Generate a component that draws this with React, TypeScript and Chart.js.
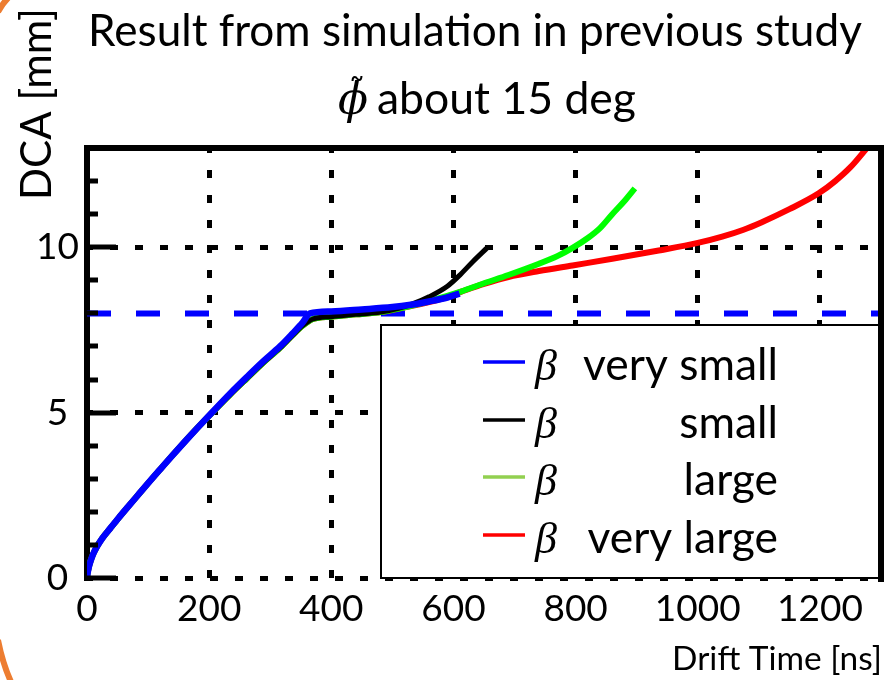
import React, { useEffect, useRef } from 'react';
import { Chart, registerables } from 'chart.js';

Chart.register(...registerables);

// ---------- text ----------
const TITLE = 'Result from simulation in previous study';
const SUBTITLE = 'about 15 deg';
const PHI = '\u03D5';
const BETA = '\u03B2';
const X_TITLE = 'Drift Time [ns]';
const Y_TITLE = 'DCA [mm]';

// ---------- series meta ----------
const seriesLabels = ['very small', 'small', 'large', 'very large'];
const seriesColors = ['#0000ff', '#000000', '#00ff00', '#ff0000'];
const legendColors = ['#0000ff', '#000000', '#92d050', '#ff0000'];
const seriesWidths = [6.5, 5, 6, 6];

// ---------- axes ----------
const xMin = 0;
const xMax = 1300;
const xStep = 200;
const yMin = 0;
const yMax = 13;
const yLabelTicks = [0, 5, 10];
const referenceDca = 8;

// ---------- data (drift time [ns], DCA [mm]) ----------
const verySmallTime = [0, 1, 3, 6, 10, 16, 25, 38, 52, 67, 85, 104, 121, 140, 160, 182, 205, 234, 262, 288, 316, 337, 353, 365, 400, 450, 500, 530, 560, 590, 610];
const verySmallDca = [0, 0.15, 0.33, 0.52, 0.72, 0.94, 1.2, 1.5, 1.82, 2.15, 2.54, 2.95, 3.31, 3.71, 4.12, 4.56, 5.01, 5.57, 6.08, 6.54, 7.0, 7.4, 7.72, 8.0, 8.06, 8.12, 8.19, 8.26, 8.36, 8.48, 8.6];

const smallTime = [0, 1, 3, 6, 10, 16, 25, 38, 52, 67, 85, 104, 121, 140, 160, 182, 205, 234, 262, 288, 316, 337, 353, 370, 400, 440, 481, 510, 535, 560, 590, 610, 632, 655];
const smallDca = [0, 0.15, 0.33, 0.52, 0.72, 0.94, 1.2, 1.5, 1.82, 2.15, 2.54, 2.95, 3.31, 3.71, 4.12, 4.56, 5.0, 5.54, 6.04, 6.5, 6.96, 7.35, 7.63, 7.83, 7.9, 7.97, 8.04, 8.15, 8.3, 8.5, 8.82, 9.15, 9.57, 9.98];

const largeTime = [0, 1, 3, 6, 10, 16, 25, 38, 52, 67, 85, 104, 121, 140, 160, 182, 205, 234, 262, 288, 316, 337, 353, 370, 400, 440, 481, 520, 560, 612, 650, 690, 740, 770, 795, 820, 840, 860, 880, 897];
const largeDca = [0, 0.15, 0.33, 0.52, 0.72, 0.94, 1.2, 1.5, 1.82, 2.15, 2.54, 2.95, 3.31, 3.71, 4.12, 4.56, 5.0, 5.54, 6.04, 6.5, 6.96, 7.35, 7.63, 7.83, 7.9, 7.97, 8.04, 8.18, 8.37, 8.66, 8.91, 9.16, 9.5, 9.73, 9.98, 10.28, 10.58, 11.0, 11.4, 11.78];

const veryLargeTime = [0, 1, 3, 6, 10, 16, 25, 38, 52, 67, 85, 104, 121, 140, 160, 182, 205, 234, 262, 288, 316, 337, 353, 370, 400, 440, 481, 520, 577, 612, 650, 690, 740, 795, 860, 936, 1000, 1040, 1075, 1104, 1150, 1198, 1225, 1250, 1277];
const veryLargeDca = [0, 0.15, 0.33, 0.52, 0.72, 0.94, 1.2, 1.5, 1.82, 2.15, 2.54, 2.95, 3.31, 3.71, 4.12, 4.56, 5.0, 5.54, 6.04, 6.5, 6.96, 7.35, 7.63, 7.83, 7.9, 7.97, 8.04, 8.18, 8.42, 8.65, 8.89, 9.1, 9.28, 9.45, 9.65, 9.9, 10.13, 10.32, 10.53, 10.75, 11.15, 11.63, 12.0, 12.42, 13.0];

const referenceTime = [xMin, xMax];

const toPoints = (t: number[], d: number[]) => t.map((x, i) => ({ x, y: d[i] }));

const seriesData = [
  toPoints(verySmallTime, verySmallDca),
  toPoints(smallTime, smallDca),
  toPoints(largeTime, largeDca),
  toPoints(veryLargeTime, veryLargeDca),
];

const FONT = 'Lato, "Open Sans", sans-serif';

function fitFont(ctx: CanvasRenderingContext2D, text: string, width: number, style: string, family: string) {
  const base = 40;
  ctx.font = `${style} ${base}px ${family}`;
  const w = ctx.measureText(text).width || 1;
  const size = (base * width) / w;
  ctx.font = `${style} ${size}px ${family}`;
  return size;
}

const decorPlugin = {
  id: 'decor',
  afterDatasetsDraw(chart: any) {
    const { ctx, chartArea: a, scales } = chart;
    const ys = scales.y;
    ctx.save();
    // inner ticks on the left axis
    ctx.strokeStyle = '#000';
    ctx.lineWidth = 5;
    for (let v = yMin; v < yMax; v++) {
      const py = Math.round(ys.getPixelForValue(v));
      const len = yLabelTicks.includes(v) ? 29 : 11;
      ctx.beginPath();
      ctx.moveTo(a.left, py);
      ctx.lineTo(a.left + len, py);
      ctx.stroke();
    }
    // top and right frame
    ctx.lineWidth = 6;
    ctx.beginPath();
    ctx.moveTo(a.left - 3, a.top);
    ctx.lineTo(a.right + 3, a.top);
    ctx.moveTo(a.right, a.top);
    ctx.lineTo(a.right, a.bottom + 4);
    ctx.stroke();

    // legend box
    const L = 381, T = 325, R = 879, B = 578;
    ctx.fillStyle = '#ffffff';
    ctx.fillRect(L, T, R - L, B - T);
    ctx.lineWidth = 2;
    ctx.strokeStyle = '#000';
    ctx.strokeRect(L, T, R - L, B - T);
    const rows = [362, 420, 477, 535];
    const labelSize = fitFont(ctx, seriesLabels[0], 195, '', FONT);
    seriesLabels.forEach((label, i) => {
      const y = rows[i];
      ctx.strokeStyle = legendColors[i];
      ctx.lineWidth = 3.5;
      ctx.beginPath();
      ctx.moveTo(483, y);
      ctx.lineTo(525, y);
      ctx.stroke();
      ctx.fillStyle = '#000';
      ctx.textBaseline = 'alphabetic';
      ctx.textAlign = 'left';
      ctx.font = 'italic 44px "Liberation Serif", serif';
      ctx.fillText(BETA, 535, y + 18);
      ctx.textAlign = 'right';
      ctx.font = `${labelSize}px ${FONT}`;
      ctx.fillText(label, 778, y + 18);
    });
    ctx.restore();
  },
  afterDraw(chart: any) {
    const { ctx } = chart;
    ctx.save();
    ctx.fillStyle = '#000';
    ctx.textBaseline = 'alphabetic';
    // title
    ctx.textAlign = 'center';
    fitFont(ctx, TITLE, 774, '', FONT);
    ctx.fillText(TITLE, 475, 46);
    // subtitle with phi tilde
    ctx.textAlign = 'left';
    ctx.font = 'italic 44px "DejaVu Serif", serif';
    ctx.fillText(PHI, 338, 114);
    ctx.font = '34px "DejaVu Sans", sans-serif';
    ctx.textAlign = 'center';
    ctx.fillText('\u02DC', 357, 103);
    ctx.textAlign = 'left';
    fitFont(ctx, SUBTITLE, 259, '', FONT);
    ctx.fillText(SUBTITLE, 377, 114);
    // x axis title
    ctx.textAlign = 'right';
    fitFont(ctx, X_TITLE, 210, '', FONT);
    ctx.fillText(X_TITLE, 882, 670);
    // y axis title
    ctx.translate(51, 104);
    ctx.rotate(-Math.PI / 2);
    ctx.textAlign = 'center';
    fitFont(ctx, Y_TITLE, 192, '', FONT);
    ctx.fillText(Y_TITLE, 0, 0);
    ctx.restore();
    // orange slide decoration
    ctx.save();
    ctx.strokeStyle = '#ed7d31';
    ctx.lineWidth = 6;
    ctx.beginPath();
    ctx.moveTo(-2, 640);
    ctx.quadraticCurveTo(3, 665, 12, 684);
    ctx.stroke();
    ctx.beginPath();
    ctx.moveTo(-2, 12);
    ctx.quadraticCurveTo(2, 4, 9, -3);
    ctx.stroke();
    ctx.restore();
  },
};

export default function App() {
  const ref = useRef<HTMLCanvasElement | null>(null);
  useEffect(() => {
    if (!ref.current) return;
    const datasets: any[] = seriesData.map((data, i) => ({
      label: seriesLabels[i],
      data,
      borderColor: seriesColors[i],
      backgroundColor: seriesColors[i],
      borderWidth: seriesWidths[i],
      pointRadius: 0,
      fill: false,
      cubicInterpolationMode: 'monotone',
      borderCapStyle: 'butt',
    }));
    datasets.push({
      label: 'reference',
      data: toPoints(referenceTime, referenceTime.map(() => referenceDca)),
      borderColor: '#0000ff',
      borderWidth: 6,
      borderDash: [24, 25],
      pointRadius: 0,
      fill: false,
    });
    const chart = new Chart(ref.current, {
      type: 'line',
      data: { datasets },
      options: {
        animation: false,
        responsive: true,
        maintainAspectRatio: false,
        devicePixelRatio: 1,
        layout: { padding: { left: 0, right: 7, top: 148, bottom: 0 } },
        plugins: {
          legend: { display: false },
          tooltip: { enabled: false },
          title: { display: false },
        },
        scales: {
          x: {
            type: 'linear',
            min: xMin,
            max: xMax,
            ticks: {
              stepSize: xStep,
              includeBounds: false,
              autoSkip: false,
              maxRotation: 0,
              color: '#000',
              padding: 9,
              font: { family: FONT, size: 37 },
              callback: (v: any) => String(v),
            },
            grid: {
              drawTicks: false,
              color: '#000',
              lineWidth: (c: any) => (c.tick && c.tick.value > xMin && c.tick.value < xMax ? 5 : 0),
            },
            border: { display: false, dash: [8, 17], dashOffset: 3 },
            afterFit: (s: any) => { s.height = 102; },
          },
          y: {
            type: 'linear',
            min: yMin,
            max: yMax,
            ticks: {
              stepSize: 1,
              autoSkip: false,
              color: '#000',
              padding: 8,
              crossAlign: 'center',
              font: { family: FONT, size: 37 },
              callback: (v: any) => (yLabelTicks.includes(v) ? String(v) : ''),
            },
            grid: {
              drawTicks: false,
              color: '#000',
              lineWidth: (c: any) => (c.tick && yLabelTicks.includes(c.tick.value) ? 5 : 0),
            },
            border: { display: true, color: '#000', width: 6, dash: [8, 17], dashOffset: 5 },
            afterFit: (s: any) => { s.width = 87; },
          },
        },
      },
      plugins: [decorPlugin],
    } as any);
    return () => chart.destroy();
  }, []);
  return (
    <div style={{ position: 'absolute', left: 0, top: 0, width: 888, height: 680, background: '#fff' }}>
      <canvas ref={ref} />
    </div>
  );
}
